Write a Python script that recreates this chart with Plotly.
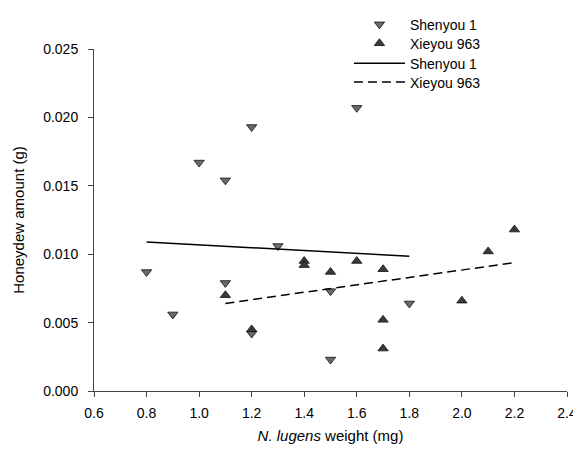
import numpy as np
import plotly.graph_objects as go

# Shenyou 1 (down triangles)
shen_x = [0.8, 0.9, 1.0, 1.1, 1.1, 1.2, 1.2, 1.3, 1.5, 1.5, 1.6, 1.8]
shen_y = [0.0087, 0.0056, 0.0167, 0.0154, 0.0079, 0.0193, 0.0042, 0.0106, 0.0073, 0.0023, 0.0207, 0.0064]
# Xieyou 963 (up triangles)
xie_x = [1.1, 1.2, 1.4, 1.4, 1.5, 1.6, 1.7, 1.7, 1.7, 2.0, 2.1, 2.2]
xie_y = [0.0070, 0.0045, 0.0095, 0.0092, 0.0087, 0.0095, 0.0089, 0.0052, 0.0031, 0.0066, 0.0102, 0.0118]

series_names = ["Shenyou 1", "Xieyou 963"]
x_ticks = [0.6, 0.8, 1.0, 1.2, 1.4, 1.6, 1.8, 2.0, 2.2, 2.4]
y_ticks = [0.000, 0.005, 0.010, 0.015, 0.020, 0.025]


def fit_line(xs, ys):
    k, b = np.polyfit(xs, ys, 1)
    xx = np.array([min(xs), max(xs)])
    return xx, k * xx + b


fig = go.Figure()
fig.add_trace(go.Scatter(
    x=shen_x, y=shen_y, mode="markers", name=series_names[0], legend="legend",
    marker=dict(symbol="triangle-down", size=9, color="#6a6a6a",
                line=dict(color="#111111", width=0.8))))
fig.add_trace(go.Scatter(
    x=xie_x, y=xie_y, mode="markers", name=series_names[1], legend="legend2",
    marker=dict(symbol="triangle-up", size=9, color="#3a3a3a",
                line=dict(color="#111111", width=0.8))))
lx, ly = fit_line(shen_x, shen_y)
fig.add_trace(go.Scatter(x=lx, y=ly, mode="lines", name=series_names[0],
                         legend="legend3",
                         line=dict(color="black", width=1.5)))
lx, ly = fit_line(xie_x, xie_y)
fig.add_trace(go.Scatter(x=lx, y=ly, mode="lines", name=series_names[1],
                         legend="legend4",
                         line=dict(color="black", width=1.5, dash="9px,5px")))

font = "Liberation Sans, Arial, sans-serif"


def leg(ypos):
    return dict(x=0.539, y=ypos, xanchor="left", yanchor="top",
                bgcolor="rgba(0,0,0,0)", font=dict(size=14),
                tracegroupgap=0, itemwidth=51)


fig.update_layout(
    width=573, height=447,
    margin=dict(l=86, r=14, t=41, b=64, autoexpand=False),
    paper_bgcolor="white", plot_bgcolor="white",
    font=dict(family=font, size=14, color="black"),
    showlegend=True,
    legend=leg(1.1178), legend2=leg(1.0623),
    legend3=leg(1.0038), legend4=leg(0.9488),
    xaxis=dict(range=[0.6, 2.4], tickvals=x_ticks, tickformat=".1f",
               showgrid=False, zeroline=False, showline=True,
               linecolor="#444444", linewidth=1, ticks="outside",
               ticklen=5, tickcolor="#444444", automargin=False,
               ticklabelstandoff=4, ticklabeloverflow="allow",
               title=dict(text="<i>N. lugens</i> weight (mg)", standoff=10,
                          font=dict(size=15))),
    yaxis=dict(range=[0, 0.025], tickvals=y_ticks, tickformat=".3f",
               showgrid=False, zeroline=False, showline=True,
               linecolor="#444444", linewidth=1, ticks="outside",
               ticklen=5, tickcolor="#444444", automargin=False,
               ticklabelstandoff=7,
               title=dict(text="Honeydew amount (g)", standoff=14,
                          font=dict(size=15))),
)
fig.write_html("out.html")
